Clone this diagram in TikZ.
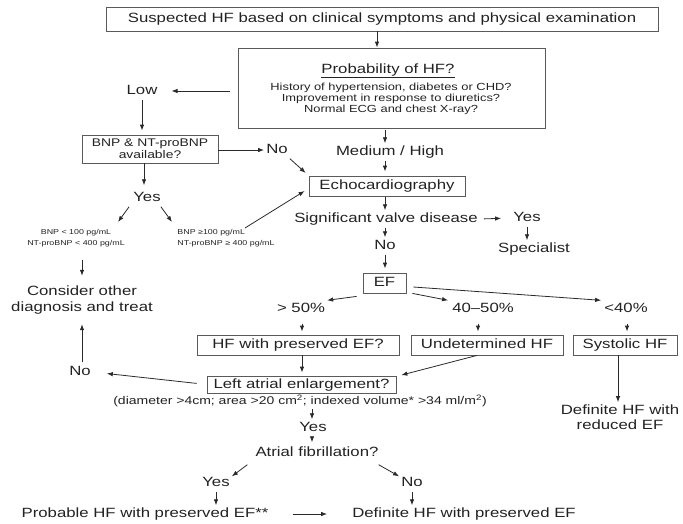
\documentclass[tikz,border=0pt]{standalone}
\usepackage{fontspec}
\setmainfont{Liberation Sans}[FakeStretch=1.25]
\usetikzlibrary{arrows.meta}
\definecolor{txtc}{HTML}{222222}
\definecolor{boxc}{HTML}{5A5A5A}
\definecolor{linec}{HTML}{2A2A2A}
\newcommand\lbf{\fontsize{13.4}{15.5}\selectfont}
\newcommand\qf{\fontsize{10.3}{11}\selectfont}
\newcommand\bnpf{\fontsize{11.1}{12}\selectfont}
\newcommand\tinyf{\fontsize{7.1}{11}\selectfont}
\newcommand\notef{\fontsize{11.2}{13}\selectfont}
\begin{document}
\begin{tikzpicture}[x=1pt,y=-1pt,
  box/.style={draw=boxc,line width=0.8pt,inner sep=0pt},
  lbl/.style={font=\lbf,text=txtc,inner sep=2pt,text height=10pt,text depth=3pt},
  ml/.style={font=\lbf,text=txtc,align=center,inner sep=2pt},
  arr/.style={-{Latex[length=6pt,width=4.5pt]},line width=0.8pt,draw=linec}]
  \useasboundingbox (0,0) rectangle (683,523);

  % top and probability box
  \node[box,lbl,minimum width=552pt,minimum height=24pt] (susp) at (382,19)
    {Suspected HF based on clinical symptoms and physical examination};
  \node[box,minimum width=307pt,minimum height=80pt] (prob) at (391.5,88) {};
  \node[lbl] (probt) at (388,70) {\underline{Probability of HF?}};
  \node[font=\qf,text=txtc,align=center,inner sep=0pt] (probq) at (391,99)
    {History of hypertension, diabetes or CHD?\\
     Improvement in response to diuretics?\\
     Normal ECG and chest X-ray?};
  \draw[arr] ([xshift=-5pt]susp.south) -- ([xshift=-5pt]susp.south |- prob.north);

  % low probability branch
  \node[lbl] (low) at (142,91) {Low};
  \node[box,font=\bnpf,text=txtc,align=center,minimum width=136pt,minimum height=28pt] (bnp)
    at (150,149) {BNP \& NT-proBNP\\available?};
  \node[lbl] (no1) at (277,150) {No};
  \node[lbl] (yes2) at (147,198) {Yes};
  \node[font=\tinyf,text=txtc,align=center,inner sep=1pt] (lowbnp) at (76,238)
    {BNP {<} 100 pg/mL\\NT-proBNP {<} 400 pg/mL};
  \node[font=\tinyf,text=txtc,align=left,inner sep=1pt] (highbnp) at (226,238)
    {BNP ≥100 pg/mL\\NT-proBNP ≥ 400 pg/mL};
  \node[ml] (cons) at (82,300) {Consider other\\diagnosis and treat};
  \node[lbl] (no3) at (80,372) {No};

  \draw[arr,shorten <=8pt,shorten >=12pt] (prob.west |- low) -- (low);
  \draw[arr,shorten >=4pt] (low.south) -- (low |- bnp.north);
  \draw[arr] (bnp.east |- no1) -- (no1.west);
  \draw[arr,shorten >=4pt] ([xshift=-3pt]bnp.south -| yes2) -- ([xshift=-3pt]yes2.north);
  \draw[arr] ([xshift=-2pt]yes2.south west) -- ([xshift=42pt,yshift=6pt]lowbnp.north);
  \draw[arr] ([xshift=-2pt]yes2.south east) -- ([xshift=-54pt,yshift=6pt]highbnp.north);
  \draw[arr,shorten <=12pt,shorten >=8pt] ([xshift=6pt]lowbnp.south) -- ([xshift=6pt]lowbnp.south |- cons.north);
  \draw[arr,shorten <=1pt,shorten >=8pt] (no3.north -| cons) -- (cons.south);

  % main column
  \coordinate (cx) at (385,0);
  \node[lbl] (medhigh) at (390,152) {Medium / High};
  \node[box,lbl,minimum width=156pt,minimum height=20pt] (echo) at (387,186) {Echocardiography};
  \node[lbl] (sig) at (386,219) {Significant valve disease};
  \node[lbl] (yes1) at (527,218) {Yes};
  \node[lbl] (spec) at (534,249) {Specialist};
  \node[lbl] (no2) at (385,246) {No};
  \node[box,lbl,minimum width=43pt,minimum height=20pt] (ef) at (384.5,283) {EF};

  \draw[arr,shorten <=2pt] (prob.south -| cx) -- (medhigh.north -| cx);
  \draw[arr,shorten >=4pt] (medhigh.south -| cx) -- (echo.north -| cx);
  \draw[arr,shorten <=1pt] (echo.south -| cx) -- (sig.north -| cx);
  \draw[arr,shorten <=4pt,shorten >=10pt] (sig.east) -- (yes1.west);
  \draw[arr] (yes1.south) -- (yes1.south |- spec.north);
  \draw[arr] (sig.south -| cx) -- (no2.north -| cx);
  \draw[arr,shorten >=4pt] (no2.south -| cx) -- (ef.north -| cx);
  \draw[arr,shorten >=4pt] (no1.south east) -- (echo.north west);
  \draw[arr] ([xshift=19pt]highbnp.north) -- ([xshift=-4pt,yshift=-5pt]echo.west);

  % ejection fraction branches
  \node[lbl] (gt50) at (301,309) {> 50\%};
  \node[lbl] (mid) at (483,309) {40–50\%};
  \node[lbl] (lt40) at (626,309) {<40\%};
  \node[box,lbl,minimum width=202pt,minimum height=20pt] (hfpef) at (298,345) {HF with preserved EF?};
  \node[box,lbl,minimum width=152pt,minimum height=20pt] (undet) at (487,345) {Undetermined HF};
  \node[box,lbl,minimum width=104pt,minimum height=20pt] (syst) at (625,345) {Systolic HF};
  \node[ml] (dhfr) at (620,417) {Definite HF with\\reduced EF};

  \draw[arr] ([xshift=-6pt,yshift=-3pt]ef.south west) -- (gt50.north east);
  \draw[arr] ([xshift=6pt]ef.south east) -- ([xshift=-2pt]mid.north west);
  \draw[arr] ([xshift=7pt,yshift=-4pt]ef.east) -- ([xshift=-1pt]lt40.north west);
  \draw[arr,shorten <=6pt,shorten >=3pt] ([xshift=1pt]gt50.south) -- ([xshift=1pt]gt50.south |- hfpef.north);
  \draw[arr,shorten <=6pt,shorten >=3pt] ([xshift=-5pt]mid.south) -- ([xshift=-5pt]mid.south |- undet.north);
  \draw[arr,shorten <=6pt,shorten >=3pt] ([xshift=1pt]lt40.south) -- ([xshift=1pt]lt40.south |- syst.north);
  \draw[arr] ([xshift=-7pt]syst.south) -- ([xshift=-7pt]syst.south |- dhfr.north);

  % left atrial enlargement
  \node[box,lbl,minimum width=189pt,minimum height=17pt,text height=9.5pt,text depth=2.5pt] (lae)
    at (301.5,384.5) {Left atrial enlargement?};
  \node[font=\notef,text=txtc,inner sep=1pt] (note) at (300,401)
    {(diameter >4cm; area >20 cm\textsuperscript{2}; indexed volume* >34 ml/m\textsuperscript{2})};
  \node[lbl] (yes3) at (313,428) {Yes};
  \node[lbl] (af) at (317,453) {Atrial fibrillation?};
  \node[lbl] (yes4) at (216,483) {Yes};
  \node[lbl] (no4) at (412,483) {No};
  \node[lbl] (prob2) at (145,514) {Probable HF with preserved EF**};
  \node[lbl] (defp) at (464,514) {Definite HF with preserved EF};

  \draw[arr,shorten >=3pt] ([xshift=1pt]hfpef.south -| gt50) -- ([xshift=1pt]gt50.south |- lae.north);
  \draw[arr,shorten >=2pt] ([xshift=-10pt]undet.south) -- ([xshift=3pt]lae.north east);
  \draw[arr,shorten <=10pt,shorten >=14pt] (lae.west) -- (no3.east);
  \draw[arr,shorten <=1pt] ([xshift=-1pt]note.south -| yes3) -- ([xshift=-1pt]yes3.north);
  \draw[arr,shorten >=2pt] ([xshift=-1pt]yes3.south) -- ([xshift=-1pt]yes3.south |- af.north);
  \draw[arr] ([xshift=-6pt,yshift=-3pt]af.south west) -- ([yshift=-2pt]yes4.north east);
  \draw[arr] ([xshift=-2pt,yshift=-3pt]af.south east) -- ([yshift=-2pt]no4.north west);
  \draw[arr] (yes4.south) -- (yes4.south |- prob2.north);
  \draw[arr] (no4.south) -- (no4.south |- defp.north);
  \draw[arr,shorten <=22pt,shorten >=23pt] (prob2.east) -- (defp.west);
\end{tikzpicture}
\end{document}
